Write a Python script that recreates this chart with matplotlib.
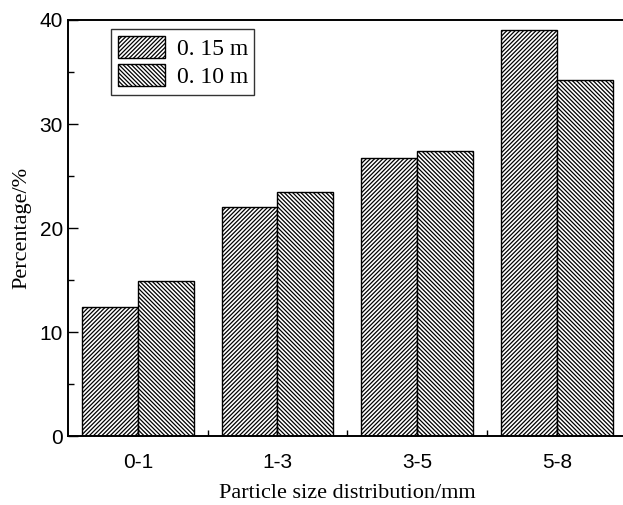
import matplotlib.pyplot as plt
import numpy as np
from matplotlib.ticker import MultipleLocator

# Dane
categories = ["0-1", "1-3", "3-5", "5-8"]
series_labels = ["0. 15 m", "0. 10 m"]
values_015 = [12.4, 22.0, 26.7, 39.0]
values_010 = [14.9, 23.5, 27.4, 34.2]

plt.rcParams["hatch.linewidth"] = 0.9
plt.rcParams["font.family"] = ["Liberation Sans", "DejaVu Sans"]

fig = plt.figure(figsize=(6.23, 5.05), dpi=100)
ax = fig.add_axes([0.109, 0.1366, 0.897, 0.8238])

x = np.arange(len(categories))
width = 0.4

ax.bar(x - width / 2, values_015, width, facecolor="white", edgecolor="black",
       linewidth=1.0, hatch="////////", label=series_labels[0])
ax.bar(x + width / 2, values_010, width, facecolor="white", edgecolor="black",
       linewidth=1.0, hatch="\\" * 8, label=series_labels[1])

ax.set_xlim(-0.5, 3.5)
ax.set_ylim(0, 40)
ax.set_xticks(x)
ax.set_xticklabels(categories)
ax.set_xticks(x + 0.5, minor=True)
ax.yaxis.set_major_locator(MultipleLocator(10))
ax.yaxis.set_minor_locator(MultipleLocator(5))

ax.tick_params(which="major", direction="in", length=7, width=1, labelsize=15)
ax.tick_params(which="minor", direction="in", length=4, width=1)
ax.tick_params(axis="x", pad=12)

for s in ax.spines.values():
    s.set_linewidth(1.4)

ax.set_xlabel("Particle size distribution/mm", family="Liberation Serif",
              fontsize=16, labelpad=9)
ax.set_ylabel("Percentage/%", family="Liberation Serif", fontsize=16, labelpad=6)

leg = ax.legend(loc="upper left", bbox_to_anchor=(0.077, 0.978),
                prop={"family": "Liberation Serif", "size": 17},
                frameon=True, fancybox=False, edgecolor="black",
                handlelength=2.0, handleheight=1.05, handletextpad=0.5,
                borderpad=0.28, labelspacing=0.18, borderaxespad=0)
leg.get_frame().set_linewidth(1.0)

plt.savefig("out.png", dpi=100, facecolor="white")
